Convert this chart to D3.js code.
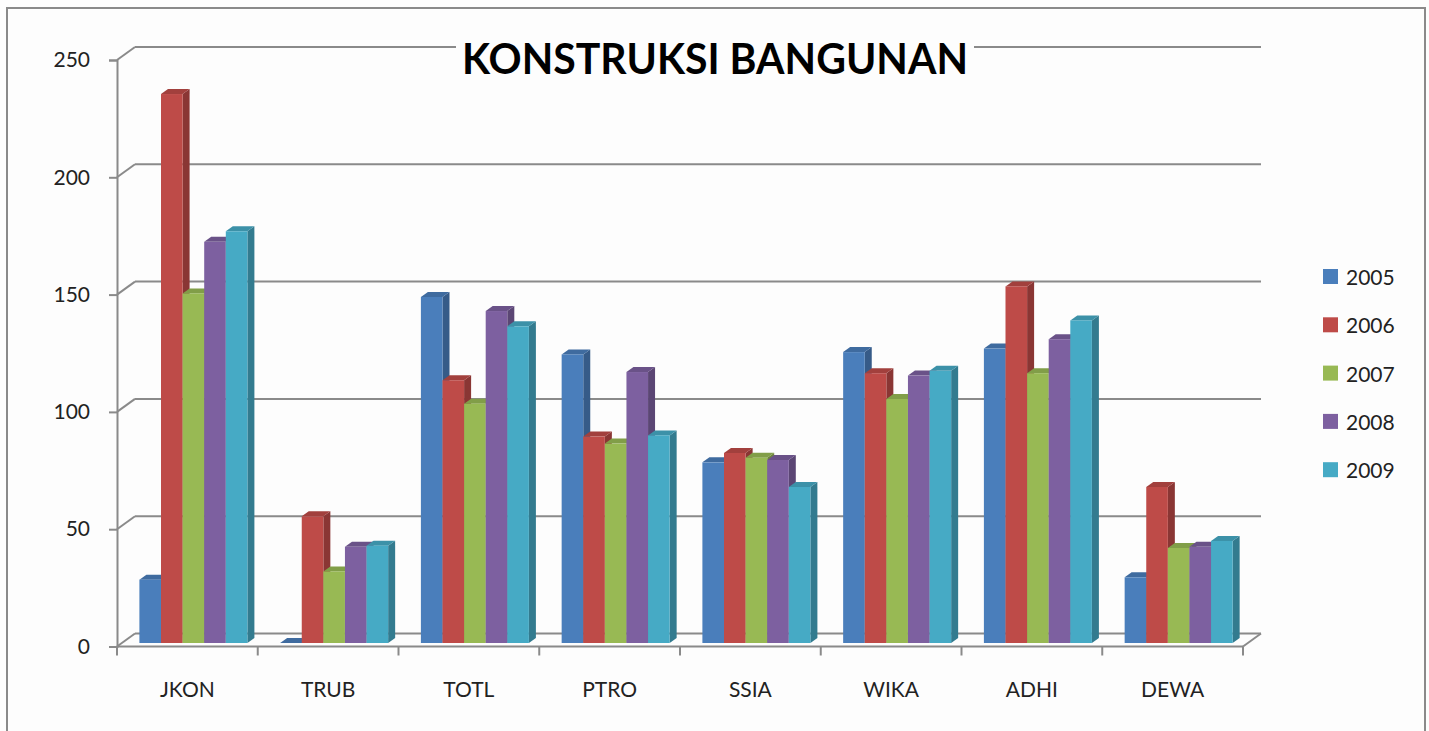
<!DOCTYPE html>
<html>
<head>
<meta charset="utf-8">
<title>Konstruksi Bangunan</title>
<style>
  body { margin: 0; background: #fdfdfd; }
  svg { display: block; font-family: Lato, "Open Sans", sans-serif; }
</style>
<script src="https://cdn.jsdelivr.net/npm/d3@7/dist/d3.min.js"></script>
</head>
<body>
<svg id="chart" width="1429" height="731"></svg>
<script>
// data
var categories = ["JKON", "TRUB", "TOTL", "PTRO", "SSIA", "WIKA", "ADHI", "DEWA"];
var years = ["2005", "2006", "2007", "2008", "2009"];
var v2005 = [27, 0, 147.5, 123, 77, 124, 125.5, 28];
var v2006 = [234, 54, 112, 88, 81, 115, 152, 66.5];
var v2007 = [149, 30.5, 102, 85, 79, 104, 115, 40.5];
var v2008 = [171, 41, 141.5, 115.5, 78, 114, 129.5, 41];
var v2009 = [175.5, 41.5, 135, 88.5, 66.5, 116, 137.5, 43.5];
var yTicks = [0, 50, 100, 150, 200, 250];
var colors = ["#4a7ebb", "#be4b48", "#98b954", "#7d60a0", "#46aac5"];

var series = [v2005, v2006, v2007, v2008, v2009];

var svg = d3.select("#chart");

// outer chart border
svg.append("rect")
  .attr("x", 7).attr("y", 8)
  .attr("width", 1418).attr("height", 740)
  .attr("fill", "#fdfdfd")
  .attr("stroke", "#8a8a8a").attr("stroke-width", 2);

var y = d3.scaleLinear().domain([0, 250]).range([646.5, 60]);
var x = d3.scaleBand().domain(categories).range([117, 1243]);
var inner = d3.scaleBand().domain(years).range([16.4, 124.4]);

// 3d offsets
var wallDx = 18, wallDy = -13;   // back wall
var frontDx = 6, frontDy = -3.5; // bar front face
var depthDx = 7, depthDy = -5;   // bar depth

var gridColor = "#8a8a8a";
var grid = svg.append("g");

// back wall gridlines + side diagonals
yTicks.forEach(function (t) {
  grid.append("line")
    .attr("x1", 117 + wallDx).attr("x2", 1243 + wallDx)
    .attr("y1", y(t) + wallDy).attr("y2", y(t) + wallDy)
    .attr("stroke", gridColor).attr("stroke-width", 2);
  grid.append("line")
    .attr("x1", 117).attr("y1", y(t))
    .attr("x2", 117 + wallDx).attr("y2", y(t) + wallDy)
    .attr("stroke", gridColor).attr("stroke-width", 2);
});

// floor front edge and right diagonal
grid.append("line")
  .attr("x1", 117).attr("x2", 1243)
  .attr("y1", y(0)).attr("y2", y(0))
  .attr("stroke", gridColor).attr("stroke-width", 2);
grid.append("line")
  .attr("x1", 1243).attr("y1", y(0))
  .attr("x2", 1243 + wallDx).attr("y2", y(0) + wallDy)
  .attr("stroke", gridColor).attr("stroke-width", 2);

// y axis
var yAxis = svg.append("g")
  .attr("transform", "translate(117,0)")
  .call(d3.axisLeft(y).tickValues(yTicks).tickSize(8).tickPadding(19));
yAxis.selectAll("path").attr("stroke", gridColor).attr("stroke-width", 2);
yAxis.selectAll("line").attr("stroke", gridColor).attr("stroke-width", 2);
yAxis.selectAll("text")
  .attr("font-size", 21).attr("fill", "#222")
  .attr("font-family", "Lato, sans-serif");

// x ticks at band edges
var edges = categories.map(function (c) { return x(c); }).concat([1243]);
svg.append("g").selectAll("line").data(edges).join("line")
  .attr("x1", function (d) { return d; }).attr("x2", function (d) { return d; })
  .attr("y1", y(0)).attr("y2", y(0) + 9)
  .attr("stroke", gridColor).attr("stroke-width", 2);

svg.append("g").selectAll("text").data(categories).join("text")
  .attr("x", function (d) { return x(d) + x.bandwidth() / 2; })
  .attr("y", 697)
  .attr("text-anchor", "middle")
  .attr("font-size", 21).attr("fill", "#222")
  .text(function (d) { return d; });

// bars
var bars = svg.append("g");
categories.forEach(function (c, ci) {
  years.forEach(function (yr, si) {
    var v = series[si][ci];
    var x0 = x(c) + inner(yr) + frontDx;
    var x1 = x0 + inner.bandwidth();
    var yb = y(0) + frontDy;
    var yt = y(v) + frontDy;
    var col = d3.color(colors[si]);
    // side
    bars.append("path")
      .attr("d", "M" + x1 + "," + yb + "L" + (x1 + depthDx) + "," + (yb + depthDy) +
        "L" + (x1 + depthDx) + "," + (yt + depthDy) + "L" + x1 + "," + yt + "Z")
      .attr("fill", col.darker(0.9));
    // top
    bars.append("path")
      .attr("d", "M" + x0 + "," + yt + "L" + (x0 + depthDx) + "," + (yt + depthDy) +
        "L" + (x1 + depthDx) + "," + (yt + depthDy) + "L" + x1 + "," + yt + "Z")
      .attr("fill", col.darker(0.45));
    // front
    bars.append("rect")
      .attr("x", x0).attr("y", yt)
      .attr("width", inner.bandwidth()).attr("height", yb - yt)
      .attr("fill", col);
  });
});

// title with white backing over gridline
svg.append("rect")
  .attr("x", 456).attr("y", 38).attr("width", 518).attr("height", 42)
  .attr("fill", "#fdfdfd");
svg.append("text")
  .attr("x", 715).attr("y", 74)
  .attr("text-anchor", "middle")
  .attr("font-size", 42).attr("font-weight", "bold").attr("fill", "#000")
  .attr("textLength", 506).attr("lengthAdjust", "spacingAndGlyphs")
  .text("KONSTRUKSI BANGUNAN");

// legend
var legend = svg.append("g").selectAll("g").data(years).join("g")
  .attr("transform", function (d, i) { return "translate(1323," + (277 + i * 48.3) + ")"; });
legend.append("rect")
  .attr("x", 0).attr("y", -8).attr("width", 15).attr("height", 15)
  .attr("fill", function (d, i) { return colors[i]; });
legend.append("text")
  .attr("x", 23).attr("y", 8)
  .attr("font-size", 21).attr("fill", "#222")
  .text(function (d) { return d; });
</script>
</body>
</html>
